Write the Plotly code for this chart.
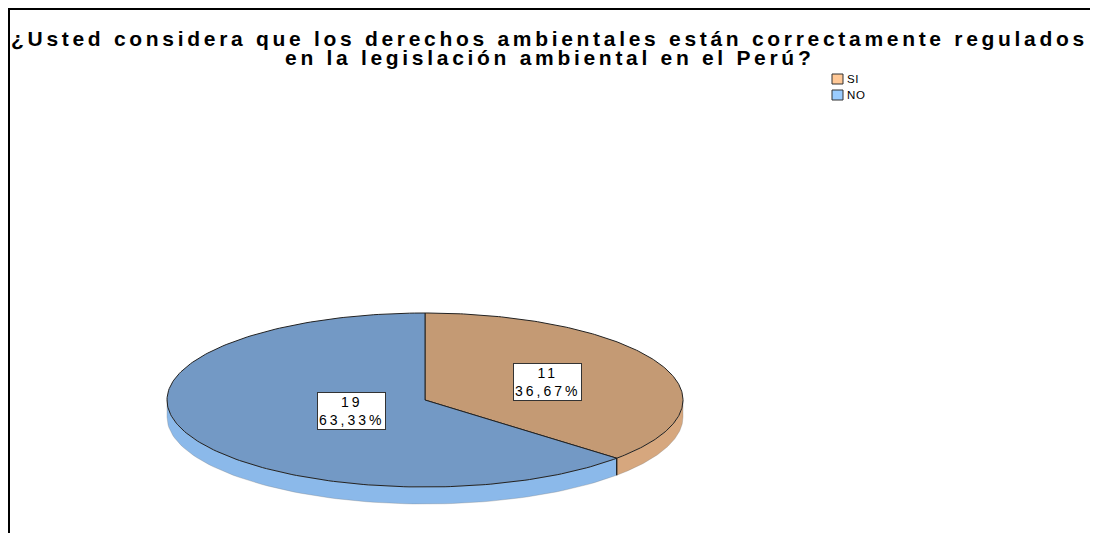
import numpy as np
import plotly.graph_objects as go

# ---- data ----
categories = ["SI", "NO"]
counts = [11, 19]
pct_labels = ["36,67%", "63,33%"]
title_lines = ["¿Usted considera que los derechos ambientales están correctamente regulados",
               "en la legislación ambiental en el Perú?"]

# ---- style ----
OFF = 8                      # page body margin
W, H = 1098 - OFF, 533 - OFF
top_colors = ["#C49A74", "#7399C5"]
side_colors = ["#D6A77E", "#8BB9EA"]
legend_colors = ["#FFC896", "#99CCFF"]
cx, cy, rx, ry, depth = 425, 400, 258, 87, 17
label_r = [0.52, 0.31]
FONT = "Liberation Sans, Arial, sans-serif"

def px(xp):
    return (xp - OFF) / W

def py(yp):
    return 1 - (yp - OFF) / H

total = sum(counts)
fig = go.Figure()

def pt(t, dy=0.0):
    return cx + rx * np.cos(np.radians(t)), cy - ry * np.sin(np.radians(t)) + dy

# angles: start at 90 deg, go clockwise
starts, ends = [], []
a = 90.0
for c in counts:
    sweep = 360.0 * c / total
    starts.append(a)
    ends.append(a - sweep)
    a -= sweep

# side walls (front half)
for i in range(len(counts)):
    a1, a2 = ends[i], starts[i]
    segs = []
    for k in (-360, 0, 360):
        lo = max(a1 + k, -180)
        hi = min(a2 + k, 0)
        if hi > lo:
            segs.append((lo, hi))
    for lo, hi in segs:
        ts = np.linspace(lo, hi, 80)
        xs_t, ys_t = pt(ts)
        xs_b, ys_b = pt(ts[::-1], depth)
        fig.add_trace(go.Scatter(
            x=np.concatenate([xs_t, xs_b, xs_t[:1]]),
            y=np.concatenate([ys_t, ys_b, ys_t[:1]]),
            mode="lines", fill="toself", fillcolor=side_colors[i],
            line=dict(color="rgba(120,120,120,0.5)", width=0.6),
            hoverinfo="skip", showlegend=False))

# top faces
for i in range(len(counts)):
    ts = np.linspace(starts[i], ends[i], 200)
    xs, ys = pt(ts)
    fig.add_trace(go.Scatter(
        x=np.concatenate([[cx], xs, [cx]]),
        y=np.concatenate([[cy], ys, [cy]]),
        mode="lines", fill="toself", fillcolor=top_colors[i],
        line=dict(color="#222222", width=1),
        hoverinfo="skip", showlegend=False))

# vertical edges at slice boundaries on the front
for i in range(len(counts)):
    t = ends[i] % 360
    if t > 180:
        t -= 360
    if -180 < t < 0:
        x0, y0 = pt(t)
        x1, y1 = pt(t, depth)
        fig.add_trace(go.Scatter(x=[x0, x1], y=[y0, y1], mode="lines",
                                 line=dict(color="#111111", width=1.2),
                                 hoverinfo="skip", showlegend=False))

# legend (squares + text)
leg_x, leg_y, leg_dy = 832, 79, 16
for i, cat in enumerate(categories):
    yc = leg_y + i * leg_dy
    fig.add_shape(type="rect", xref="paper", yref="paper",
                  x0=px(leg_x), x1=px(leg_x + 11), y0=py(yc - 5), y1=py(yc + 5),
                  fillcolor=legend_colors[i], line=dict(color="#333333", width=1))
    fig.add_annotation(x=px(leg_x + 13), y=py(yc), xref="paper", yref="paper",
                       text=f'<span style="letter-spacing:0.6px">{cat}</span>',
                       showarrow=False, xanchor="left", yanchor="middle",
                       font=dict(family=FONT, size=11.5, color="black"))

# slice labels
for i in range(len(counts)):
    mid = (starts[i] + ends[i]) / 2
    lx = cx + label_r[i] * rx * np.cos(np.radians(mid))
    ly = cy - label_r[i] * ry * np.sin(np.radians(mid))
    fig.add_annotation(x=lx, y=ly, xref="x", yref="y",
                       text=(f'<span style="letter-spacing:3px">{counts[i]}</span><br>'
                             f'<span style="letter-spacing:3px">{pct_labels[i]}</span>'),
                       showarrow=False,
                       font=dict(family=FONT, size=14, color="black"),
                       bgcolor="white", bordercolor="#333333", borderwidth=1,
                       borderpad=1)

# title
for j, line in enumerate(title_lines):
    fig.add_annotation(x=px(549), y=py(39 + 18 * j), xref="paper", yref="paper",
                       text=f'<b><span style="letter-spacing:3.7px">{line}</span></b>',
                       showarrow=False,
                       font=dict(family=FONT, size=21, color="black"),
                       xanchor="center", yanchor="middle")

# frame (top and left)
fig.add_shape(type="line", xref="paper", yref="paper",
              x0=px(8), x1=1.0, y0=py(9), y1=py(9),
              line=dict(color="black", width=2))
fig.add_shape(type="line", xref="paper", yref="paper",
              x0=px(9), x1=px(9), y0=py(8), y1=0,
              line=dict(color="black", width=2))

fig.update_layout(
    width=W, height=H,
    margin=dict(l=0, r=0, t=0, b=0),
    paper_bgcolor="white", plot_bgcolor="white",
    xaxis=dict(range=[OFF, 1098], visible=False, fixedrange=True),
    yaxis=dict(range=[533, OFF], visible=False, fixedrange=True),
    showlegend=False,
)

fig.write_html("out.html")
